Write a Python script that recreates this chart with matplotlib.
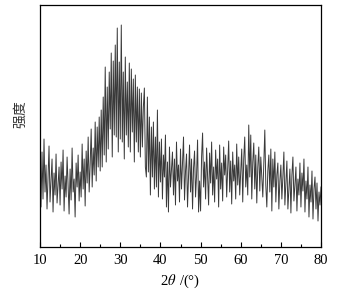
import numpy as np
import matplotlib
matplotlib.use('Agg')
import matplotlib.pyplot as plt
from matplotlib.ticker import MultipleLocator

plt.rcParams['font.family'] = ['Liberation Serif', 'Noto Sans CJK SC', 'DejaVu Sans']
plt.rcParams['mathtext.fontset'] = 'stix'

# 2theta from 10 to 80 deg, step 0.25, intensity (arb. units)
two_theta = np.arange(10, 80.001, 0.25)
intensity = [
    72, 40, 95, 48, 108, 55, 82, 38, 70, 101, 45, 66, 88, 35, 74, 52, 93, 44, 63, 80,      # 10-15
    42, 85, 58, 97, 36, 71, 50, 90, 61, 33, 78, 47, 99, 55, 68, 30, 84, 60, 92, 46,        # 15-20
    75, 50, 103, 58, 88, 41, 96, 64, 110, 55, 83, 118, 60, 99, 72, 125, 66, 120, 80, 130,  # 20-25
    76, 137, 80, 150, 92, 180, 85, 160, 98, 175, 118, 194, 90, 186, 112, 202, 110, 219, 95, 185,  # 25-30
    108, 222, 105, 175, 88, 190, 112, 165, 100, 184, 95, 178, 115, 168, 85, 172, 105, 160, 95, 158,  # 30-35
    90, 154, 100, 140, 159, 80, 70, 150, 75, 130, 52, 120, 70, 125, 58, 110, 60, 137, 50, 105,  # 35-40
    65, 108, 48, 92, 70, 112, 40, 85, 35, 100, 60, 78, 95, 52, 88, 42, 105, 66, 82, 45,    # 40-45
    98, 58, 84, 110, 47, 76, 93, 40, 70, 102, 55, 88, 38, 79, 96, 50, 72, 107, 35, 66,     # 45-50
    36, 90, 114, 60, 85, 48, 99, 70, 42, 94, 64, 105, 52, 80, 45, 97, 68, 88, 40, 102,     # 50-55
    58, 84, 46, 100, 72, 92, 50, 78, 106, 55, 86, 43, 95, 66, 82, 48, 103, 62, 90, 52,     # 55-60
    75, 98, 45, 88, 110, 60, 82, 52, 122, 70, 112, 48, 85, 104, 58, 92, 44, 80, 100, 56,   # 60-65
    90, 70, 50, 84, 117, 62, 40, 76, 92, 55, 98, 36, 88, 60, 95, 45, 72, 84, 38, 66,       # 65-70
    82, 48, 70, 95, 42, 64, 86, 38, 58, 78, 34, 72, 90, 46, 62, 80, 36, 68, 52, 84,        # 70-75
    40, 74, 56, 88, 35, 66, 48, 80, 30, 62, 45, 76, 28, 58, 70, 38, 64, 26, 55, 42,        # 75-80
    60,
]

fig = plt.figure(figsize=(3.49, 2.95), dpi=100)
ax = fig.add_axes([0.1146, 0.1627, 0.8052, 0.8203])

ax.plot(two_theta, intensity, color='#3a3a3a', lw=0.7)

ax.set_xlim(10, 80)
ax.set_ylim(0, 242)
ax.xaxis.set_major_locator(MultipleLocator(10))
ax.xaxis.set_minor_locator(MultipleLocator(5))
ax.tick_params(axis='x', which='major', direction='in', length=3.5, width=0.8,
               labelsize=10.5, pad=5, top=False)
ax.tick_params(axis='x', which='minor', direction='in', length=2.5, width=0.8, top=False)
ax.set_yticks([])
for sp in ax.spines.values():
    sp.set_linewidth(0.9)

ax.set_xlabel(r'2$\theta\;\,$/(°)', fontsize=10.5, labelpad=4)
ax.set_ylabel('强度', fontsize=10, family=['Noto Sans CJK SC'], color='#333333')
ax.yaxis.set_label_coords(-0.046, 0.55)

fig.savefig('out.png', dpi=100)
